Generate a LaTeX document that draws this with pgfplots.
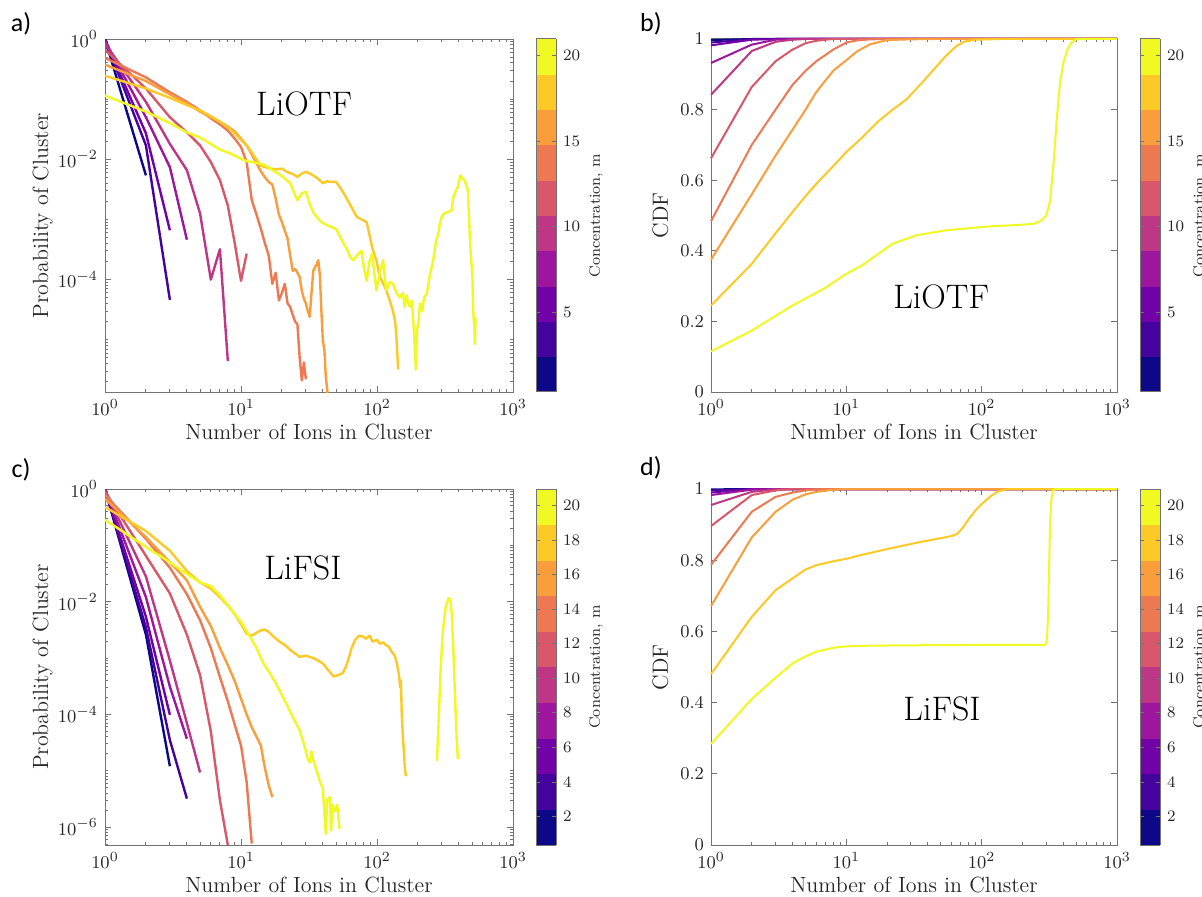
\documentclass[border=0pt]{standalone}
\usepackage{pgfplots}
\pgfplotsset{compat=1.18}
\usepackage{fontspec}
\newfontfamily\labfont{Carlito}

\definecolor{c0}{RGB}{13,8,135}
\definecolor{c1}{RGB}{69,3,158}
\definecolor{c2}{RGB}{114,1,168}
\definecolor{c3}{RGB}{156,23,158}
\definecolor{c4}{RGB}{189,55,134}
\definecolor{c5}{RGB}{216,87,107}
\definecolor{c6}{RGB}{237,121,83}
\definecolor{c7}{RGB}{250,158,59}
\definecolor{c8}{RGB}{253,201,38}
\definecolor{c9}{RGB}{240,249,33}

\pgfplotsset{colormap={plasmaten}{rgb255=(13,8,135) rgb255=(69,3,158) rgb255=(114,1,168)
  rgb255=(156,23,158) rgb255=(189,55,134) rgb255=(216,87,107) rgb255=(237,121,83)
  rgb255=(250,158,59) rgb255=(253,201,38) rgb255=(240,249,33)}}

\pgfplotsset{
  mycommon/.style={
    scale only axis, xmin=1, xmax=1000,
    axis line style={black!55, line width=0.5pt},
    tick style={black!55, line width=0.5pt},
    major tick length=3pt, minor tick length=1.6pt,
    tick label style={font=\fontsize{9.5}{11}\selectfont, text=black!85},
    label style={font=\fontsize{11}{13}\selectfont, text=black!85},
    xlabel={Number of Ions in Cluster},
    xlabel style={at={(axis description cs:0.5,-0.113)}, anchor=center},
    colormap name=plasmaten,
    colormap access=piecewise constant,
    point meta min=0.35, point meta max=20.95,
  },
  mylogy/.style={ymax=1, ytick={1,1e-2,1e-4,1e-6},
    minor ytick={2e-1,3e-1,4e-1,5e-1,6e-1,7e-1,8e-1,9e-1,1e-1,
      2e-2,3e-2,4e-2,5e-2,6e-2,7e-2,8e-2,9e-2,
      2e-3,3e-3,4e-3,5e-3,6e-3,7e-3,8e-3,9e-3,1e-3,
      2e-4,3e-4,4e-4,5e-4,6e-4,7e-4,8e-4,9e-4,
      2e-5,3e-5,4e-5,5e-5,6e-5,7e-5,8e-5,9e-5,1e-5,
      2e-6,3e-6,4e-6,5e-6,6e-6,7e-6,8e-6,9e-6,
      2e-7,3e-7,4e-7,5e-7,6e-7,7e-7,8e-7,9e-7},
    ylabel={Probability of Cluster},
    ylabel style={at={(axis description cs:-0.153,0.5)}, anchor=center}},
  mycdfy/.style={ymin=0, ymax=1, ytick={0,0.2,0.4,0.6,0.8,1}, clip=false,
    ylabel={CDF},
    ylabel style={at={(axis description cs:-0.125,0.5)}, anchor=center}},
  mycb/.style 2 args={colorbar, colorbar style={scale only axis, width=10pt, height=#1,
    at={(parent axis.north east)}, anchor=north west, xshift=3pt,
    axis line style={black!55, line width=0.5pt},
    tick style={black!55, line width=0.4pt}, major tick length=2pt,
    ytick={#2},
    yticklabel style={font=\fontsize{8.3}{10}\selectfont, text=black!85},
    ylabel={Concentration, m},
    ylabel style={font=\fontsize{7.6}{9}\selectfont, text=black!85,
      at={(axis description cs:3.0,0.5)}, anchor=center}}},
}

\begin{document}
\begin{tikzpicture}
\fill[white] (0,0) rectangle (601pt,448pt);
\useasboundingbox (0,0) rectangle (601pt,448pt);

% ---------------- a) LiOTF probability
\begin{axis}[xmode=log, ymode=log, mycommon, mylogy, at={(52.5pt,252pt)}, anchor=south west, width=204pt, height=176.5pt,
  ymin=1.35e-6, mycb={176.5pt}{5,10,15,20}, every axis plot/.append style={line width=1.2pt, line join=round}]
\addplot[c0] coordinates {(1,0.996) (2,0.0054)};
\addplot[c1] coordinates {(1,0.99) (2,0.017) (3,4.6e-5)};
\addplot[c2] coordinates {(1,0.982) (2,0.027) (3,6.6e-4)};
\addplot[c3] coordinates {(1,0.932) (2,0.05) (3,0.0074) (4,4.6e-4)};
\addplot[c4] coordinates {(1,0.842) (2,0.09) (3,0.018) (4,0.0066) (5,0.00126) (6,1.0e-4) (7,3.2e-4) (8,4.4e-6)};
\addplot[c5] coordinates {(1,0.662) (2,0.15) (3,0.05) (4,0.028) (5,0.017) (6,0.009) (7,0.0045) (8,0.0017) (9,4e-4) (10,9.5e-5) (11,2.7e-4)};
\addplot[c6] coordinates {(1,0.484) (2,0.23) (3,0.13) (4,0.09) (5,0.065) (6,0.048) (7,0.038) (8,0.03) (9,0.022) (10,0.016) (11,0.009) (12,0.0021) (13,0.0012) (14,7e-4) (15,4e-4) (16,2.5e-4) (17,8.5e-5) (18,1.3e-4) (19,4.5e-5) (20,6e-5) (21,8.5e-5) (22,4e-5) (23,3.5e-5) (24,2.6e-5) (25,2e-5) (26,1.8e-5) (27,5e-6) (28,2.1e-6) (29,4.2e-6) (30,2.2e-6)};
\addplot[c7] coordinates {(1,0.375) (2,0.2) (3,0.12) (4,0.085) (5,0.062) (6,0.05) (7,0.042) (8,0.035) (9,0.029) (10,0.022) (11,0.017) (12,0.012) (13,0.0085) (14,0.0063) (15,0.005) (16,0.0042) (17,0.0038) (18,0.0022) (19,0.0012) (20,9e-4) (21,6.5e-4) (22,4.8e-4) (23,2.5e-4) (24,1.4e-4) (25,1.5e-4) (26,1.3e-4) (27,1.1e-4) (28,6.5e-5) (29,4.8e-5) (30,4e-5) (31,3e-5) (32,2.4e-5) (33,6e-5) (34,1.4e-4) (35,1.6e-4) (36,1.8e-4) (37,2.1e-4) (38,1.2e-4) (39,3e-5) (40,9.5e-6) (41,7e-6) (42,2.5e-6) (43,1.5e-6) (44,8e-7)};
\addplot[c8] coordinates {(1,0.245) (2,0.15) (3,0.105) (4,0.08) (5,0.065) (6,0.052) (7,0.042) (8,0.034) (9,0.027) (10,0.021) (11,0.017) (12,0.013) (13,0.0098) (14,0.0078) (16,0.0071) (18,0.0068) (20,0.007) (22,0.0061) (24,0.0057) (26,0.0051) (28,0.0058) (30,0.0062) (32,0.0058) (34,0.0054) (37,0.0047) (40,0.004) (43,0.0043) (46,0.0042) (50,0.0042) (53,0.0035) (57,0.0027) (60,0.0022) (63,0.0018) (67,0.0014) (71,0.0011) (77,0.001) (84,9e-4) (88,5.5e-4) (92,3.5e-4) (96,2.5e-4) (99,2.1e-4) (102,1.5e-4) (105,1.1e-4) (110,9e-5) (117,6.6e-5) (124,4.5e-5) (131,3e-5) (136,2e-5) (139,1.1e-5) (141,6e-6) (143,3.2e-6)};
\addplot[c9] coordinates {(1,0.115) (2,0.062) (3,0.04) (4,0.028) (5,0.023) (6,0.018) (7,0.0145) (8,0.013) (9,0.0115) (10,0.0102) (11,0.0093) (12,0.009) (13,0.0087) (14,0.0084) (15,0.008) (17,0.0066) (19,0.0057) (21,0.0048) (23,0.004) (25,0.0025) (26,0.0021) (28,0.0027) (30,0.0029) (32,0.0018) (34,0.0013) (36,0.0011) (39,9e-4) (43,8e-4) (46,7.5e-4) (50,6.9e-4) (54,5e-4) (57,3.9e-4) (60,3.2e-4) (64,2.3e-4) (67,2.1e-4) (72,2.6e-4) (77,3.0e-4) (80,1.6e-4) (84,9.5e-5) (88,2e-4) (92,2.7e-4) (96,1.2e-4) (99,6.6e-5) (104,1.2e-4) (111,2.1e-4) (114,1.1e-4) (117,6.6e-5) (124,9e-5) (131,8.5e-5) (139,6e-5) (147,5e-5) (155,6e-5) (160,3.5e-5) (165,5.5e-5) (170,4e-5) (175,3.5e-5) (180,4.5e-5) (187,1.4e-5) (193,3.2e-6) (197,1.5e-5) (201,1.8e-5) (207,4e-5) (215,3e-5) (222,5e-5) (232,5.8e-5) (245,1.2e-4) (259,2.1e-4) (270,4e-4) (282,5.8e-4) (290,8.5e-4) (299,1.1e-3) (310,1.25e-3) (324,1.3e-3) (340,1.35e-3) (353,1.4e-3) (363,2.3e-3) (380,3e-3) (394,3.5e-3) (409,5.4e-3) (425,4.8e-3) (440,4.5e-3) (455,3.6e-3) (466,3e-3) (480,5.8e-4) (490,2.5e-4) (503,1.1e-4) (510,3e-5) (517,1.8e-5) (522,1.2e-5) (525,8.5e-6) (530,2.3e-5)};
\node[font=\fontsize{17}{20}\selectfont] at (axis description cs:0.488,0.816) {LiOTF};
\end{axis}

% ---------------- b) LiOTF CDF
\begin{axis}[xmode=log, mycommon, mycdfy, at={(355.5pt,252pt)}, anchor=south west, width=203pt, height=176.5pt,
  mycb={176.5pt}{5,10,15,20}, every axis plot/.append style={line width=1pt, line join=round}]
\addplot[c0] coordinates {(1,0.997) (2,1) (1000,1)};
\addplot[c1] coordinates {(1,0.99) (2,0.9995) (3,1) (1000,1)};
\addplot[c2] coordinates {(1,0.982) (2,0.998) (3,1) (1000,1)};
\addplot[c3] coordinates {(1,0.932) (2,0.984) (3,0.998) (4,1) (1000,1)};
\addplot[c4] coordinates {(1,0.842) (2,0.966) (3,0.992) (4,0.998) (5,1) (1000,1)};
\addplot[c5] coordinates {(1,0.662) (2,0.864) (3,0.937) (4,0.970) (5,0.988) (6,0.995) (7,0.998) (8,1) (1000,1)};
\addplot[c6] coordinates {(1,0.484) (2,0.70) (3,0.80) (4,0.87) (5,0.91) (6,0.937) (8,0.97) (10,0.99) (12,0.996) (15,0.999) (20,1) (1000,1)};
\addplot[c7] coordinates {(1,0.375) (2,0.56) (3,0.67) (4,0.743) (5,0.80) (6,0.85) (8,0.91) (10,0.94) (12,0.965) (15,0.985) (20,0.997) (30,0.999) (45,1) (1000,1)};
\addplot[c8] coordinates {(1,0.245) (2,0.363) (3,0.45) (4,0.51) (5,0.555) (6,0.59) (8,0.64) (10,0.68) (13,0.72) (17,0.765) (22,0.80) (28,0.83) (38,0.885) (54,0.951) (65,0.98) (75,0.993) (90,0.998) (140,1) (1000,1)};
\addplot[c9] coordinates {(1,0.115) (2,0.174) (4,0.245) (7,0.295) (10,0.335) (13,0.358) (17,0.39) (22,0.42) (33,0.444) (54,0.458) (112,0.469) (200,0.474) (246,0.477) (276,0.486) (300,0.50) (320,0.54) (340,0.65) (360,0.78) (380,0.88) (400,0.93) (430,0.97) (460,0.99) (500,0.999) (550,1) (1000,1)};
\node[font=\fontsize{17}{20}\selectfont] at (axis description cs:0.567,0.27) {LiOTF};
\end{axis}

% ---------------- c) LiFSI probability
\begin{axis}[xmode=log, ymode=log, mycommon, mylogy, at={(52.5pt,25.5pt)}, anchor=south west, width=204pt, height=178pt,
  ymin=4.8e-7, mycb={178pt}{2,4,6,8,10,12,14,16,18,20}, every axis plot/.append style={line width=1.2pt, line join=round}]
\addplot[c0] coordinates {(1,0.999) (2,0.0026) (3,1.2e-5)};
\addplot[c1] coordinates {(1,0.995) (2,0.0035) (3,3.5e-5) (4,3.2e-6)};
\addplot[c2] coordinates {(1,0.99) (2,0.0054) (3,9.8e-5)};
\addplot[c3] coordinates {(1,0.983) (2,0.012) (3,3.1e-4) (4,3.7e-5)};
\addplot[c4] coordinates {(1,0.955) (2,0.028) (3,9e-4) (4,7e-5) (5,9.3e-6)};
\addplot[c5] coordinates {(1,0.896) (2,0.065) (3,0.014) (4,0.0026) (5,5e-4) (6,5e-5) (7,3e-6) (8,4.8e-7)};
\addplot[c6] coordinates {(1,0.787) (2,0.13) (3,0.04) (4,0.0136) (5,0.0047) (6,0.0015) (7,4.6e-4) (8,1.7e-4) (9,6.5e-5) (10,2.8e-5) (11,6.3e-6) (12,5.1e-7)};
\addplot[c7] coordinates {(1,0.671) (2,0.14) (3,0.05) (4,0.024) (5,0.0081) (6,0.0037) (7,0.0015) (8,7.5e-4) (9,3.9e-4) (10,1.9e-4) (11,1e-4) (12,5.9e-5) (13,4e-5) (14,2.8e-5) (15,1.1e-5) (16,5.5e-6) (17,3.4e-6)};
\addplot[c8] coordinates {(1,0.48) (2,0.18) (3,0.08) (4,0.035) (5,0.022) (6,0.017) (7,0.012) (8,0.0085) (9,0.006) (10,0.004) (11,0.0027) (12,0.0025) (13,0.0028) (14,0.0031) (15,0.0032) (16,0.0029) (17,0.0025) (19,0.002) (21,0.0017) (23,0.0014) (25,0.0012) (27,0.00105) (30,0.0011) (34,0.001) (37,0.0009) (40,0.0008) (44,0.0006) (48,0.00047) (52,0.0005) (56,0.00054) (59,0.0007) (62,0.001) (65,0.0015) (69,0.0021) (74,0.0025) (79,0.0024) (83,0.0022) (88,0.0025) (93,0.00195) (100,0.0021) (105,0.0018) (111,0.0019) (116,0.0017) (122,0.0016) (128,0.0013) (135,0.0011) (140,0.0008) (145,5e-4) (148,3e-4) (150,4e-4) (152,1.05e-4) (155,4e-5) (158,2e-5) (160,1.2e-5) (163,8e-6)};
\addplot[c9] coordinates {(1,0.285) (2,0.094) (3,0.05) (4,0.031) (5,0.022) (6,0.019) (7,0.013) (8,0.0087) (9,0.006) (10,0.0044) (11,0.003) (12,0.0021) (13,0.0015) (14,0.001) (15,7.2e-4) (16,5.8e-4) (18,3.6e-4) (20,2.2e-4) (22,1.4e-4) (24,9e-5) (27,5.2e-5) (29,3e-5) (31,1.6e-5) (32,1.4e-5) (33,2.2e-5) (34,1.55e-5) (36,1.0e-5) (38,6.5e-6) (40,4.8e-6) (42,7.6e-7) (43,3e-6) (45,3.4e-6) (46,8.7e-7) (47,2.5e-6) (49,1.9e-6) (51,2.5e-6) (53,9.3e-7)};
\addplot[c9] coordinates {(276,1.5e-5) (285,1e-4) (295,8e-4) (305,3e-3) (320,8e-3) (335,0.0115) (345,0.011) (355,0.006) (365,1.2e-3) (375,2e-4) (385,4e-5) (393,1.6e-5)};
\node[font=\fontsize{17}{20}\selectfont] at (axis description cs:0.485,0.778) {LiFSI};
\end{axis}

% ---------------- d) LiFSI CDF
\begin{axis}[xmode=log, mycommon, mycdfy, at={(355.5pt,25.5pt)}, anchor=south west, width=203pt, height=178pt,
  mycb={178pt}{2,4,6,8,10,12,14,16,18,20}, every axis plot/.append style={line width=1pt, line join=round}]
\addplot[c0] coordinates {(1,0.999) (2,1) (1000,1)};
\addplot[c1] coordinates {(1,0.996) (2,1) (1000,1)};
\addplot[c2] coordinates {(1,0.99) (2,0.9995) (3,1) (1000,1)};
\addplot[c3] coordinates {(1,0.983) (2,0.998) (3,1) (1000,1)};
\addplot[c4] coordinates {(1,0.955) (2,0.992) (3,0.999) (4,1) (1000,1)};
\addplot[c5] coordinates {(1,0.896) (2,0.983) (3,0.996) (4,1) (1000,1)};
\addplot[c6] coordinates {(1,0.787) (2,0.936) (3,0.978) (4,0.99) (5,0.996) (6,0.999) (8,1) (1000,1)};
\addplot[c7] coordinates {(1,0.671) (2,0.864) (3,0.936) (4,0.97) (5,0.985) (6,0.992) (8,0.998) (10,1) (1000,1)};
\addplot[c8] coordinates {(1,0.48) (2,0.641) (3,0.716) (4,0.749) (5,0.774) (6,0.786) (8,0.797) (10,0.804) (13,0.815) (21,0.833) (36,0.852) (50,0.862) (60,0.868) (66,0.874) (72,0.89) (80,0.915) (90,0.94) (100,0.958) (115,0.978) (130,0.992) (150,0.999) (170,1) (1000,1)};
\addplot[c9] coordinates {(1,0.284) (2,0.41) (3,0.47) (4,0.51) (5,0.53) (6,0.543) (8,0.554) (10,0.558) (15,0.56) (30,0.561) (100,0.562) (290,0.562) (300,0.566) (305,0.59) (310,0.66) (315,0.78) (320,0.9) (327,0.97) (335,0.995) (350,1) (1000,1)};
\node[font=\fontsize{17}{20}\selectfont] at (axis description cs:0.569,0.382) {LiFSI};
\end{axis}

\node[font=\labfont\fontsize{13}{15}\selectfont] at (10.5pt,436pt) {a)};
\node[font=\labfont\fontsize{13}{15}\selectfont] at (325.5pt,436pt) {b)};
\node[font=\labfont\fontsize{13}{15}\selectfont] at (10.5pt,213pt) {c)};
\node[font=\labfont\fontsize{13}{15}\selectfont] at (325.5pt,214pt) {d)};
\end{tikzpicture}
\end{document}
